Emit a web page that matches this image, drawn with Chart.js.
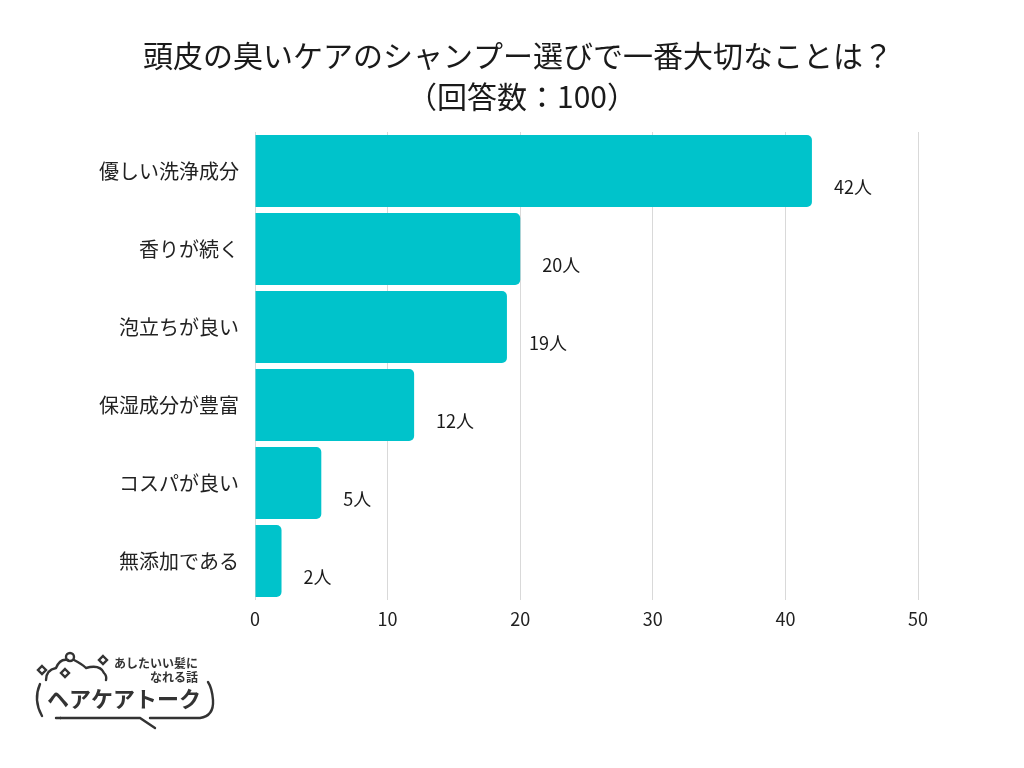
<!DOCTYPE html>
<html lang="ja">
<head>
<meta charset="utf-8">
<script src="https://cdn.jsdelivr.net/npm/chart.js@4/dist/chart.umd.min.js"></script>
<style>
  body { margin: 0; background: #fff; }
  #wrap { position: relative; width: 1024px; height: 768px; }
  #logo { position: absolute; left: 0; top: 630px; }
</style>
</head>
<body>
<div id="wrap">
  <canvas id="rankChart" width="1024" height="768"></canvas>
  <svg id="logo" width="260" height="120" viewBox="0 630 260 120">
    <g fill="none" stroke="#333" stroke-width="2.4" stroke-linecap="round">
      <!-- 吹き出し -->
      <path d="M40 684 Q33 700 42 716"/>
      <path d="M56 718 L140 718 L155 728"/>
      <path d="M150 718 L200 718 Q214 716 213 700 Q212 688 208 682"/>
      <path d="M46 680 Q46 670 56 668 Q60 658 68 660"/>
      <path d="M74 660 Q82 664 86 668 Q100 664 104 673 Q107 676 106 680"/>
      <circle cx="70" cy="657" r="4"/>
      <path d="M42 666 L46 670 L42 674 L38 670 Z"/>
      <path d="M103 656 L107 660 L103 664 L99 660 Z"/>
      <path d="M65 669 L69 673 L65 677 L61 673 Z"/>
    </g>
    <line x1="60" y1="718" x2="61" y2="718" stroke="#333" stroke-width="2.4"/>
    <text x="198" y="668" text-anchor="end" font-family="Noto Sans CJK JP" font-weight="700" font-size="12" fill="#333">あしたいい髪に</text>
    <text x="198" y="682" text-anchor="end" font-family="Noto Sans CJK JP" font-weight="700" font-size="12" fill="#333">なれる話</text>
    <text x="47" y="707" font-family="Noto Sans CJK JP" font-weight="700" font-size="22" fill="#333">ヘアケアトーク</text>
  </svg>
</div>
<script>
// 設問とデータ
const titleLines = ['頭皮の臭いケアのシャンプー選びで一番大切なことは？', '（回答数：100）'];
const categories = ['優しい洗浄成分', '香りが続く', '泡立ちが良い', '保湿成分が豊富', 'コスパが良い', '無添加である'];
const answerCounts = [42, 20, 19, 12, 5, 2];
const xTicks = [0, 10, 20, 30, 40, 50];
const unitLabel = '人';

const jpFont = '"Noto Sans CJK JP", "Noto Sans", sans-serif';

// タイトル描画
const titlePlugin = {
    id: 'titleLines',
    afterDraw(chart) {
        const c = chart.ctx;
        c.save();
        c.fillStyle = '#1a1a1a';
        c.font = '400 30px ' + jpFont;
        c.textAlign = 'center';
        c.textBaseline = 'middle';
        c.fillText(titleLines[0], 518, 56);
        c.fillText(titleLines[1], 522, 97);
        c.restore();
    }
};

// 棒の右下に「○人」
const valueLabels = {
    id: 'valueLabels',
    afterDatasetsDraw(chart) {
        const c = chart.ctx;
        const meta = chart.getDatasetMeta(0);
        c.save();
        c.fillStyle = '#1a1a1a';
        c.font = '18px ' + jpFont;
        c.textAlign = 'left';
        c.textBaseline = 'middle';
        meta.data.forEach(function(bar, i) {
            c.fillText(answerCounts[i] + unitLabel, bar.x + 22, bar.y + 16);
        });
        c.restore();
    }
};

const ctx = document.getElementById('rankChart').getContext('2d');
new Chart(ctx, {
    type: 'bar',
    data: {
        labels: categories,
        datasets: [{
            data: answerCounts,
            backgroundColor: '#00c3cb',
            borderRadius: { topRight: 5, bottomRight: 5 },
            borderSkipped: false,
            categoryPercentage: 1,
            barPercentage: 0.92
        }]
    },
    options: {
        indexAxis: 'y',
        responsive: false,
        animation: false,
        layout: { padding: { top: 132, right: 106, bottom: 128, left: 0 } },
        plugins: {
            legend: { display: false },
            title: { display: false },
            tooltip: { enabled: false }
        },
        scales: {
            x: {
                min: 0,
                max: 50,
                afterBuildTicks: function(scale) {
                    scale.ticks = xTicks.map(function(v) { return { value: v }; });
                },
                afterFit: function(scale) { scale.height = 40; },
                grid: { color: '#d9d9d9', lineWidth: 1, drawTicks: false },
                border: { display: false },
                ticks: { color: '#222', font: { size: 18, family: jpFont }, padding: 8 }
            },
            y: {
                afterFit: function(scale) { scale.width = 255; },
                grid: { display: false },
                border: { display: false },
                ticks: { color: '#222', font: { size: 20, family: jpFont }, padding: 8 }
            }
        }
    },
    plugins: [titlePlugin, valueLabels]
});
</script>
</body>
</html>
